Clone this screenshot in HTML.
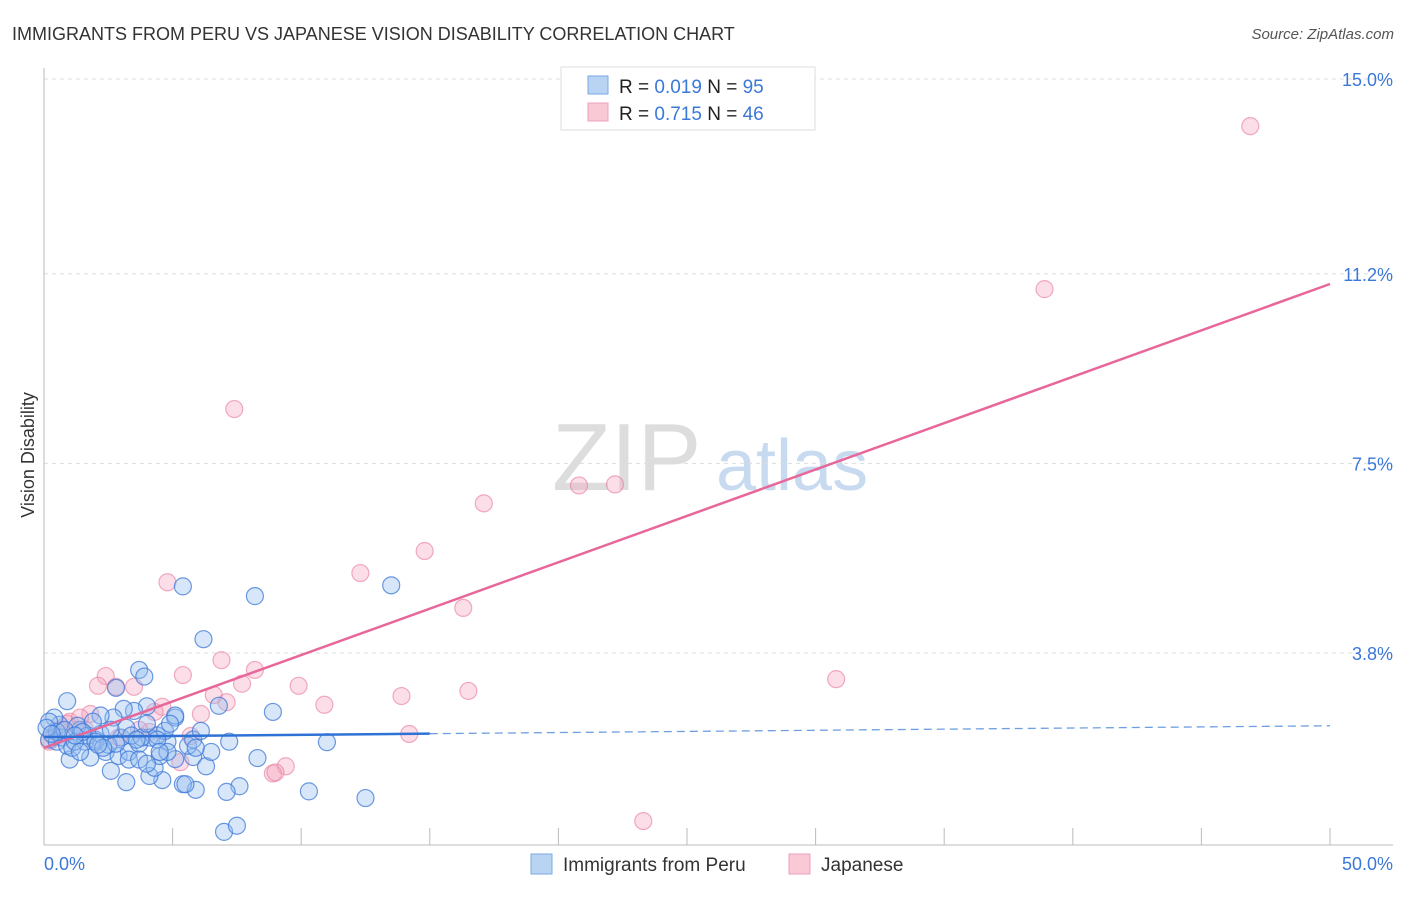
<!DOCTYPE html>
<html><head><meta charset="utf-8">
<style>
body{margin:0;background:#fff;font-family:"Liberation Sans",sans-serif;}
svg text{font-family:"Liberation Sans",sans-serif;}
</style></head>
<body>
<svg width="1406" height="892" viewBox="0 0 1406 892" id="chart">
<text x="12" y="40" font-size="18" fill="#333">IMMIGRANTS FROM PERU VS JAPANESE VISION DISABILITY CORRELATION CHART</text>
<text x="1394" y="39" font-size="15" fill="#555" font-style="italic" text-anchor="end">Source: ZipAtlas.com</text>
<g>
<text x="552" y="490" font-size="96" fill="#ddd" font-family="Liberation Serif">ZIP</text>
<text x="716" y="490" font-size="72" fill="#c8daf0">atlas</text>
</g>
<g id="grid"></g>
<g id="axes"></g>
<g id="points"></g>
<g id="lines"></g>
<text transform="translate(34,455) rotate(-90)" font-size="18" fill="#333" text-anchor="middle">Vision Disability</text>
<g>
<rect x="561" y="67" width="254" height="63" fill="#fff" stroke="#ddd"/>
<rect x="588" y="76" width="20" height="18" fill="#b9d3f3" stroke="#7aa9e6"/>
<text x="619" y="93" font-size="19" fill="#222">R = <tspan fill="#3b78d8">0.019</tspan>   N = <tspan fill="#3b78d8">95</tspan></text>
<rect x="588" y="103" width="20" height="18" fill="#f9c9d6" stroke="#eea0b8"/>
<text x="619" y="120" font-size="19" fill="#222">R = <tspan fill="#3b78d8">0.715</tspan>   N = <tspan fill="#3b78d8">46</tspan></text>
</g>
<g>
<rect x="531" y="854" width="21" height="20" fill="#b9d3f3" stroke="#7aa9e6"/>
<text x="563" y="871" font-size="19" fill="#333">Immigrants from Peru</text>
<rect x="789" y="854" width="21" height="20" fill="#f9c9d6" stroke="#eea0b8"/>
<text x="821" y="871" font-size="19" fill="#333">Japanese</text>
</g>
</svg>
<script>
const xTicks=[0,5,10,15,20,25,30,35,40,45,50];
const yTickVals=[3.8,7.5,11.2,15.0];
const yTickLabels=["3.8%","7.5%","11.2%","15.0%"];
const xEndLabels=["0.0%","50.0%"];
const peruX=[0.9,3.7,3.9,2.8,5.4,8.2,6.2,13.5,6.8,8.9,11.0,8.3,10.3,12.5,7.0,7.5,7.6,7.1,5.9,5.4,5.5,4.6,4.1,3.2,2.6,4.3,4.5,5.1,5.8,6.3,6.5,7.2,4.8,5.6,5.8,5.1,5.1,4.0,3.5,3.1,2.7,2.2,2.0,1.0,1.8,2.4,2.9,3.3,3.7,4.1,3.0,2.2,1.4,1.3,0.6,0.4,0.2,0.2,0.5,0.7,0.9,1.1,1.6,1.7,2.0,2.5,2.6,3.2,3.4,3.8,4.4,4.7,4.9,4.0,3.6,2.8,2.3,1.9,1.2,0.5,0.8,0.1,0.3,2.1,1.5,1.2,4.4,3.3,4.8,3.7,5.9,4.5,4.0,6.1,1.4];
const peruY=[2.86,3.47,3.34,3.12,5.10,4.91,4.07,5.12,2.77,2.65,2.06,1.75,1.10,0.97,0.31,0.43,1.20,1.09,1.13,1.24,1.24,1.32,1.40,1.28,1.50,1.56,1.79,1.73,1.77,1.59,1.87,2.07,2.07,1.99,2.11,2.54,2.58,2.76,2.67,2.71,2.54,2.58,2.11,1.72,1.76,1.87,1.79,1.87,2.03,2.15,2.15,2.22,2.30,2.38,2.40,2.54,2.46,2.11,2.07,2.15,1.99,1.95,2.07,2.19,2.07,2.01,2.30,2.34,2.19,2.15,2.19,2.28,2.42,2.42,2.11,2.03,1.95,2.46,2.07,2.26,2.30,2.34,2.22,2.01,2.26,2.19,2.11,1.72,1.87,1.72,1.95,1.87,1.64,2.28,1.87];
const japX=[46.9,38.9,7.4,17.1,20.8,22.2,14.8,12.3,4.8,16.3,30.8,6.9,8.2,5.4,2.4,2.1,3.5,2.8,7.7,9.9,6.6,16.5,13.9,10.9,7.1,6.1,4.6,4.3,1.8,1.0,0.6,5.7,14.2,5.3,9.4,8.9,9.0,23.3,0.2,0.4,2.9,4.1,3.7,0.9,1.4,1.6];
const japY=[14.08,10.90,8.56,6.72,7.07,7.09,5.79,5.36,5.18,4.68,3.29,3.66,3.47,3.37,3.35,3.16,3.14,3.14,3.20,3.16,2.98,3.06,2.96,2.79,2.84,2.61,2.75,2.65,2.61,2.46,2.30,2.18,2.22,1.67,1.59,1.45,1.47,0.52,2.07,2.15,2.15,2.26,2.30,2.42,2.54,2.30];
const peruLine=[2.16,2.38];
const japLine=[1.95,11.0];
const NS="http://www.w3.org/2000/svg";
const X0=44,X1=1330,YB=847.75,YPX=51.25;
function sx(v){return X0+(X1-X0)*v/50;}
function sy(v){return YB-v*YPX;}
function mk(tag,attrs,parent){const e=document.createElementNS(NS,tag);for(const k in attrs)e.setAttribute(k,attrs[k]);parent.appendChild(e);return e;}
const grid=document.getElementById('grid'),axes=document.getElementById('axes'),pts=document.getElementById('points'),lines=document.getElementById('lines');
yTickVals.forEach((v,i)=>{
 const l=mk('line',{x1:44,x2:1393,y1:sy(v),y2:sy(v),stroke:'#ddd','stroke-dasharray':'4,4'},grid);
 
 
 const t=mk('text',{x:1393,y:sy(v)+7,'font-size':18,fill:'#3b78d8','text-anchor':'end'},axes);
 t.textContent=yTickLabels[i];
 
 
});
const ax=mk('line',{x1:44,x2:44,y1:68,y2:845,stroke:'#bbb'},axes);


const bx=mk('line',{x1:44,x2:1393,y1:845,y2:845,stroke:'#bbb'},axes);


xTicks.forEach(v=>{
 const t=mk('line',{x1:sx(v),x2:sx(v),y1:828,y2:845,stroke:'#bbb'},axes);
 
 
});
const xl0=mk('text',{x:44,y:870,'font-size':18,fill:'#3b78d8'},axes);xl0.textContent=xEndLabels[0];


const xl1=mk('text',{x:1393,y:870,'font-size':18,fill:'#3b78d8','text-anchor':'end'},axes);xl1.textContent=xEndLabels[1];


japX.forEach((x,i)=>{
 const c=mk('circle',{cx:sx(x),cy:sy(japY[i]),r:8.5,fill:'rgba(244,160,185,0.35)',stroke:'rgba(232,120,155,0.6)','stroke-width':1.2},pts);
 
 
});
peruX.forEach((x,i)=>{
 const c=mk('circle',{cx:sx(x),cy:sy(peruY[i]),r:8.5,fill:'rgba(150,190,240,0.38)',stroke:'rgba(60,120,215,0.75)','stroke-width':1.2},pts);
 
 
});
const pl=mk('line',{x1:sx(0),y1:sy(japLine[0]),x2:sx(50),y2:sy(japLine[1]),stroke:'#e8679a','stroke-width':2.5},lines);


const solidEnd=15;
const bl=mk('line',{x1:sx(0),y1:sy(peruLine[0]),x2:sx(solidEnd),y2:sy(peruLine[0]+(peruLine[1]-peruLine[0])*solidEnd/50),stroke:'#2f72d6','stroke-width':2.5},lines);


const bd=mk('line',{x1:sx(solidEnd),y1:sy(peruLine[0]+(peruLine[1]-peruLine[0])*solidEnd/50),x2:sx(50),y2:sy(peruLine[1]),stroke:'#6f9fe0','stroke-width':1.3,'stroke-dasharray':'8,5'},lines);


</script>
</body></html>
